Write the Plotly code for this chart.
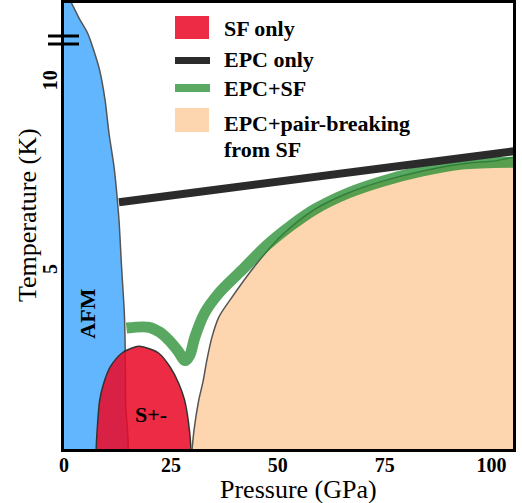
import plotly.graph_objects as go

# ---------------- data ----------------
# AFM phase boundary (Pressure GPa, Temperature K)
afm_p = [0, 0.9, 2.0, 3.6, 5.6, 8.2, 9.6, 10.5, 11.7, 12.4, 12.9, 13.4, 14.1, 14.3, 14.4, 14.4, 0]
afm_t = [12.4, 12.3, 12.06, 11.7, 11.3, 10.4, 9.55, 8.68, 7.78, 7.0, 6.3, 5.24, 3.92, 3.0, 1.5, 0, 0]

# S+- dome (SF only)
sf_p = [7.4, 7.7, 8.34, 9.28, 10.8, 13.55, 16.6, 17.5, 18.6, 22.1, 24.8, 26.8, 28.2, 29.4, 29.8]
sf_t = [0, 0.74, 1.61, 2.06, 2.49, 2.86, 3.02, 3.04, 3.02, 2.86, 2.49, 2.06, 1.61, 0.74, 0]

# EPC + pair-breaking from SF dome
pb_p = [29.7, 30.4, 31.5, 32.5, 33.4, 34.6, 36.2, 38.8, 45.6, 51.0, 58.6, 66.6, 74.3, 83.6, 93.0, 100.0, 108.0, 108.0]
pb_t = [0, 0.82, 1.61, 2.1, 2.67, 3.28, 3.81, 4.26, 5.3, 5.98, 6.66, 7.1, 7.4, 7.67, 7.86, 7.93, 7.97, 0]

# EPC only
epc_p = [12.85, 105.4]
epc_t = [6.85, 8.2]

# EPC + SF
epcsf_p = [14.6, 19.9, 22.4, 24.5, 26.6, 28.3, 29.4, 30.6, 32.9, 36.2, 41.6, 47.4, 53.3, 58.6, 66.6, 74.3, 83.6, 93.0, 105.4]
epcsf_t = [3.52, 3.54, 3.41, 3.2, 2.92, 2.66, 2.8, 3.28, 3.92, 4.44, 5.05, 5.71, 6.25, 6.66, 7.1, 7.4, 7.67, 7.86, 7.91]

x_ticks = [0, 25, 50, 75, 100]
y_ticks = [5, 10]

legend_labels = ["SF only", "EPC only", "EPC+SF", "EPC+pair-breaking", "from SF"]

# ---------------- style ----------------
SERIF = "Liberation Serif, Times New Roman, Times, serif"
BLUE = "#62B6FD"
RED = "rgba(235,8,38,0.86)"
PEACH = "#FDD6B0"
GREEN = "rgba(35,141,48,0.76)"
GREEN_KEY = "#5AAA65"
DARK = "#2B2B2B"

W, H = 522, 503
L, R, T, B = 64, 9, 3, 54
PW, PH = W - L - R, H - T - B


def px(x):
    return (x - L) / PW


def py(y):
    return (H - B - y) / PH


fig = go.Figure()

fig.add_trace(go.Scatter(x=afm_p, y=afm_t, mode="lines", fill="toself", fillcolor=BLUE,
                         line=dict(color="#555555", width=1.5, shape="spline", smoothing=0.6),
                         hoverinfo="skip", showlegend=False))
fig.add_trace(go.Scatter(x=sf_p, y=sf_t, mode="lines", fill="toself", fillcolor=RED,
                         line=dict(color="#333333", width=1.5, shape="spline", smoothing=0.8),
                         hoverinfo="skip", showlegend=False))
fig.add_trace(go.Scatter(x=pb_p, y=pb_t, mode="lines", fill="toself", fillcolor=PEACH,
                         line=dict(color="#555555", width=1.5, shape="spline", smoothing=0.8),
                         hoverinfo="skip", showlegend=False))
fig.add_trace(go.Scatter(x=epcsf_p, y=epcsf_t, mode="lines",
                         line=dict(color=GREEN, width=11, shape="spline", smoothing=0.9),
                         hoverinfo="skip", showlegend=False))
fig.add_trace(go.Scatter(x=epc_p, y=epc_t, mode="lines",
                         line=dict(color=DARK, width=8),
                         hoverinfo="skip", showlegend=False))

shapes = []
# legend keys
shapes.append(dict(type="rect", xref="paper", yref="paper", x0=px(175), x1=px(209), y0=py(39), y1=py(16),
                   fillcolor="#EE2B44", line=dict(width=0)))
shapes.append(dict(type="line", xref="paper", yref="paper", x0=px(175), x1=px(210), y0=py(60.5), y1=py(60.5),
                   line=dict(color=DARK, width=7)))
shapes.append(dict(type="line", xref="paper", yref="paper", x0=px(175), x1=px(210), y0=py(88), y1=py(88),
                   line=dict(color=GREEN_KEY, width=8)))
shapes.append(dict(type="rect", xref="paper", yref="paper", x0=px(175), x1=px(209), y0=py(132), y1=py(108),
                   fillcolor=PEACH, line=dict(width=0)))
# axis break marks
for yy in (36, 44):
    shapes.append(dict(type="line", xref="paper", yref="paper", x0=px(48), x1=px(79), y0=py(yy), y1=py(yy),
                       line=dict(color="black", width=3)))

annotations = []
bold = dict(family=SERIF, size=22, color="black", weight=700)
for lab, yc in zip(legend_labels, [28.5, 59.5, 88.5, 123.5, 149.5]):
    annotations.append(dict(text=lab, xref="paper", yref="paper", x=px(222), y=py(yc),
                            xanchor="left", yanchor="middle", showarrow=False, align="left", font=bold))
annotations.append(dict(text="AFM", x=5.6, y=3.9, xref="x", yref="y", textangle=-90, showarrow=False,
                        font=dict(family=SERIF, size=22, color="black", weight=700)))
annotations.append(dict(text="S+-", x=20.3, y=1.22, xref="x", yref="y", showarrow=False,
                        font=dict(family=SERIF, size=22, color="black", weight=700)))
annotations.append(dict(text="Pressure (GPa)", xref="paper", yref="paper", x=px(298), y=py(490),
                        xanchor="center", yanchor="middle", showarrow=False,
                        font=dict(family=SERIF, size=26, color="black")))
annotations.append(dict(text="Temperature (K)", xref="paper", yref="paper", x=px(27), y=py(215),
                        xanchor="center", yanchor="middle", textangle=-90, showarrow=False,
                        font=dict(family=SERIF, size=26, color="black")))

fig.update_layout(
    width=W, height=H,
    margin=dict(l=L, r=R, t=T, b=B),
    paper_bgcolor="white", plot_bgcolor="white",
    shapes=shapes, annotations=annotations,
    showlegend=False,
    xaxis=dict(range=[-0.01, 105], tickvals=x_ticks, ticks="", showgrid=False, zeroline=False,
               showline=True, linecolor="black", linewidth=3, mirror=True, automargin=False,
               ticklabelstandoff=-4,
               tickfont=dict(family=SERIF, size=20, color="black", weight=700)),
    yaxis=dict(range=[0.32, 12.12], tickvals=y_ticks, ticks="", showgrid=False, zeroline=False,
               showline=True, linecolor="black", linewidth=3, mirror=True, tickangle=-90, automargin=False,
               ticklabelstandoff=-4,
               tickfont=dict(family=SERIF, size=20, color="black", weight=700)),
)

fig.write_html("out.html", config={"displayModeBar": False},
               post_script="document.body.style.margin='0';document.body.style.overflow='hidden';")
